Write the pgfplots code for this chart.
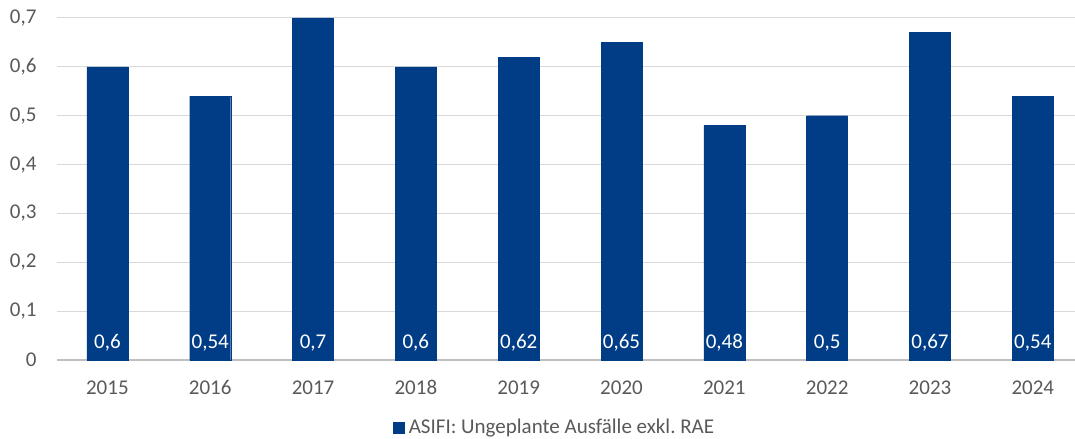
\documentclass[border=0pt]{standalone}
\usepackage{fontspec}
\setmainfont{Carlito}
\usepackage{pgfplots}
\pgfplotsset{compat=1.18}
\definecolor{barblue}{RGB}{0,61,134}
\definecolor{txtgray}{RGB}{89,89,89}
\definecolor{gridgray}{RGB}{217,217,217}
\definecolor{basegray}{RGB}{191,191,191}
\frenchspacing
\begin{document}
\begin{tikzpicture}
\path[use as bounding box] (0,0) rectangle (1075bp,439bp);
\begin{axis}[
  at={(57bp,79bp)}, anchor=south west,
  width=1018bp, height=342bp, scale only axis,
  xmin=-0.49, xmax=9.41,
  ymin=0, ymax=0.7,
  xtick={0,...,9},
  xticklabels={2015,2016,2017,2018,2019,2020,2021,2022,2023,2024},
  ytick={0,0.1,...,0.71},
  ymajorgrids, grid style={gridgray, line width=1bp},
  extra y ticks={0}, extra y tick labels={},
  extra y tick style={grid style={basegray, line width=1.3bp}},
  axis line style={draw=none},
  major tick length=0pt,
  tick label style={font=\fontsize{21bp}{25bp}\selectfont, text=txtgray},
  /pgf/number format/assume math mode=true,
  /pgf/number format/use comma,
  /pgf/number format/fixed,
  yticklabel style={xshift=-17bp},
  xticklabel style={anchor=base, yshift=-34bp},
  legend style={at={(0.489,-0.197)}, anchor=center, draw=none, fill=none,
    font=\fontsize{21bp}{25bp}\selectfont, text=txtgray, inner sep=0pt,
    /tikz/every even column/.append style={column sep=0pt}},
  legend image code/.code={\fill[barblue] (0bp,-5.5bp) rectangle (11bp,5.5bp);},
  clip=false,
]
\addplot[ybar, bar width=41bp, fill=barblue, draw=barblue] coordinates {
(0,0.6) (1,0.54) (2,0.7) (3,0.6) (4,0.62) (5,0.65) (6,0.48) (7,0.5) (8,0.67) (9,0.54)};
\addlegendentry{\hspace{2bp}ASIFI: Ungeplante Ausfälle exkl. RAE}
\addplot[draw=none, mark=none, forget plot,
  nodes near coords, point meta=explicit symbolic,
  every node near coord/.style={anchor=base, yshift=12bp, inner sep=0pt, text=white, font=\fontsize{21bp}{25bp}\selectfont}]
  coordinates {
(0,0) [0,6] (1,0) [0,54] (2,0) [0,7] (3,0) [0,6] (4,0) [0,62] (5,0) [0,65] (6,0) [0,48] (7,0) [0,5] (8,0) [0,67] (9,0) [0,54]};
\end{axis}
\end{tikzpicture}
\end{document}
